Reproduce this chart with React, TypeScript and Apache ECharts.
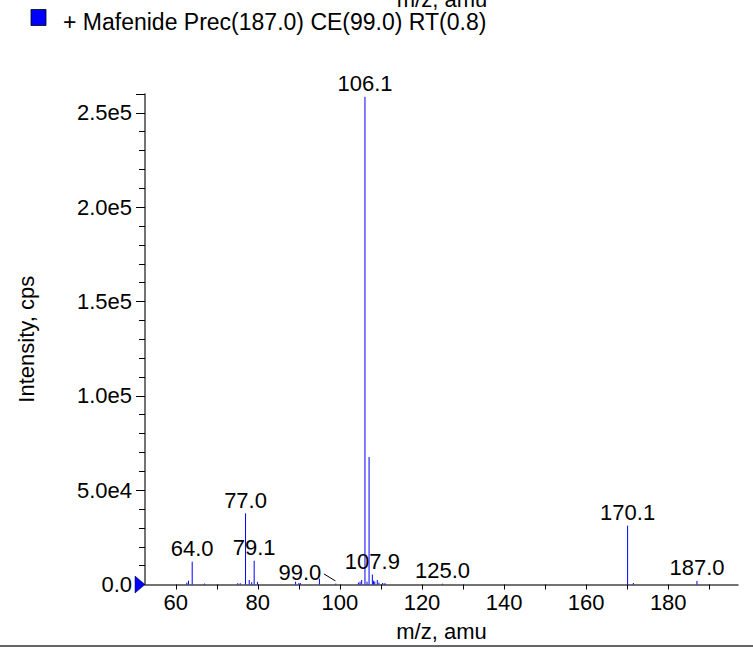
import React, { useEffect, useRef } from "react";
import * as echarts from "echarts";

const seriesName = "+ Mafenide Prec(187.0) CE(99.0) RT(0.8)";
const mzValues = [62.7, 63.1, 64.0, 67.0, 75.1, 75.7, 77.0, 77.9, 78.5, 79.1, 79.9, 89.2, 90.0, 90.4, 95.0, 99.0, 104.5, 104.9, 105.3, 106.1, 106.6, 107.1, 107.9, 108.2, 108.5, 109.1, 109.5, 110.4, 110.8, 111.1, 125.0, 170.1, 171.5, 187.0];
const intensities = [1000, 2000, 12100, 500, 700, 700, 37700, 2400, 1200, 12600, 1400, 1500, 800, 700, 3100, 500, 1000, 1500, 2400, 258500, 1500, 67600, 5300, 2000, 1500, 2400, 1000, 800, 600, 500, 400, 31200, 800, 1900];
const labeledPeaks = [64.0, 77.0, 79.1, 99.0, 106.1, 107.9, 125.0, 170.1, 187.0];
const leaderLine99 = [[96.1, 5600], [98.9, 1900]];
const xTickValues = [60, 70, 80, 90, 100, 110, 120, 130, 140, 150, 160, 170, 180, 190];
const xLabelValues = [60, 80, 100, 120, 140, 160, 180];
const xMin = 52.5;
const xMax = 197;
const yMax = 260000;
const yInterval = 50000;
const precursorMarker = [xMin, 0];

const FONT = "'Liberation Sans', Arial, Helvetica, sans-serif";

export default function App() {
  const ref = useRef<HTMLDivElement>(null);
  useEffect(() => {
    if (!ref.current) return;
    const chart = echarts.init(ref.current, null, { renderer: "svg" });
    const sticks = mzValues.map((m, i) => [m, intensities[i]]);
    const labelData = labeledPeaks.map((m) => {
      const i = mzValues.indexOf(m);
      return { value: [m, intensities[i]] };
    });
    chart.setOption({
      animation: false,
      backgroundColor: "#fff",
      textStyle: { fontFamily: FONT },
      grid: { left: 145, right: 15, top: 94, bottom: 66.5, containLabel: false },
      xAxis: {
        type: "value",
        min: xMin,
        max: xMax,
        name: "m/z, amu",
        nameLocation: "middle",
        nameGap: 36,
        nameTextStyle: { fontSize: 22, color: "#000", fontFamily: FONT },
        axisLine: { show: true, onZero: false, lineStyle: { color: "#444", width: 1.5 } },
        axisTick: { show: true, length: 5, lineStyle: { color: "#000" }, customValues: xTickValues },
        axisLabel: { fontSize: 22, color: "#000", margin: 7, customValues: xLabelValues, fontFamily: FONT },
        splitLine: { show: false },
      },
      yAxis: {
        type: "value",
        min: 0,
        max: yMax,
        interval: yInterval,
        name: "Intensity, cps",
        nameLocation: "middle",
        nameGap: 108,
        nameTextStyle: { fontSize: 22, color: "#000", fontFamily: FONT },
        axisLine: { show: true, lineStyle: { color: "#444", width: 1.5 } },
        axisTick: { show: true, length: 9, lineStyle: { color: "#000" } },
        minorTick: { show: true, splitNumber: 5, length: 6, lineStyle: { color: "#000" } },
        axisLabel: {
          fontSize: 22,
          color: "#000",
          margin: 13,
          fontFamily: FONT,
          formatter: (v: number) => (v === 0 ? "0.0" : v.toExponential(1).replace("+", "")),
        },
        splitLine: { show: false },
      },
      series: [
        {
          name: seriesName,
          type: "custom",
          itemStyle: { color: "#0000ff" },
          encode: { x: 0, y: 1 },
          data: sticks,
          renderItem: (params: any, api: any) => {
            const x = api.value(0);
            const y = api.value(1);
            const p0 = api.coord([x, 0]);
            const p1 = api.coord([x, y]);
            return {
              type: "line",
              shape: { x1: p0[0], y1: p0[1], x2: p1[0], y2: p1[1] },
              style: { stroke: "#0000ff", lineWidth: 1 },
            };
          },
        },
        {
          name: "labels",
          type: "scatter",
          symbolSize: 0,
          clip: false,
          silent: true,
          itemStyle: { opacity: 1 },
          data: labelData,
          label: {
            show: true,
            position: "top",
            distance: 2,
            fontSize: 22,
            color: "#000",
            opacity: 1,
            fontFamily: FONT,
            formatter: (p: any) => p.value[0].toFixed(1),
          },
          labelLayout: (p: any) => {
            const d = labelData[p.dataIndex];
            if (d && d.value[0] === 99.0) return { dx: -36, dy: 2 };
            return {};
          },
          markLine: {
            silent: true,
            symbol: "none",
            label: { show: false },
            lineStyle: { color: "#000", width: 1, type: "solid" },
            data: [[{ coord: leaderLine99[0] }, { coord: leaderLine99[1] }]],
          },
        },
        {
          name: "precursor",
          type: "scatter",
          clip: false,
          silent: true,
          symbol: "path://M0,0 L10,8.5 L0,17 Z",
          symbolSize: [10, 17],
          symbolOffset: [-5, 0],
          itemStyle: { color: "#0000ff", borderColor: "#000033", borderWidth: 0.5, opacity: 1 },
          data: [precursorMarker],
        },
      ],
      graphic: [
        {
          type: "text",
          x: 442,
          y: -1,
          style: {
            text: "m/z, amu",
            align: "center",
            verticalAlign: "middle",
            fontSize: 22,
            fill: "#000",
            fontFamily: FONT,
          },
        },
        {
          type: "rect",
          shape: { x: 31, y: 9.5, width: 15, height: 16 },
          style: { fill: "#0000ff", stroke: "#000", lineWidth: 0.8 },
        },
        {
          type: "text",
          x: 63,
          y: 22,
          style: {
            text: seriesName,
            align: "left",
            verticalAlign: "middle",
            fontSize: 23,
            fill: "#000",
            fontFamily: FONT,
          },
        },
        {
          type: "line",
          shape: { x1: 0, y1: 646, x2: 753, y2: 646 },
          style: { stroke: "#333", lineWidth: 1.5 },
        },
      ],
    });
    return () => chart.dispose();
  }, []);
  return (
    <div
      ref={ref}
      style={{ position: "absolute", left: 0, top: 0, width: 753, height: 651 }}
    />
  );
}
